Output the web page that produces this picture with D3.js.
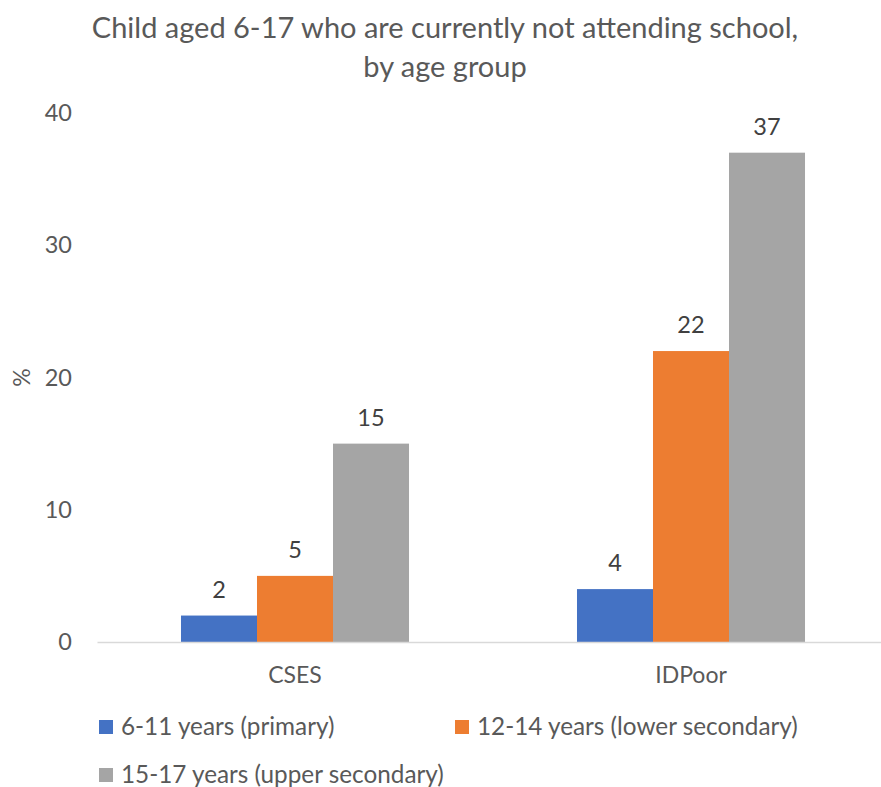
<!DOCTYPE html>
<html><head><meta charset="utf-8">
<script src="https://cdn.jsdelivr.net/npm/d3@7"></script>
<style>body{margin:0;background:#fff}svg{display:block}text{font-family:Lato,"Open Sans",sans-serif}</style>
</head><body>
<svg id="c" width="881" height="787"></svg>
<script>
const categories = ["CSES", "IDPoor"];
const seriesNames = ["6-11 years (primary)", "12-14 years (lower secondary)", "15-17 years (upper secondary)"];
const seriesValues = [[2, 4], [5, 22], [15, 37]];
const seriesColors = ["#4472C4", "#ED7D31", "#A5A5A5"];
const yTicks = [0, 10, 20, 30, 40];
const titleLines = ["Child aged 6-17 who are currently not attending school,", "by age group"];
const yLabel = "%";

const FONT = "Lato,'Open Sans',sans-serif";
const svg = d3.select("#c");
const L = 97, R = 889, T = 113, B = 642;
const y = d3.scaleLinear().domain([0, 40]).range([B, T]);
const x0 = d3.scaleBand().domain(categories).range([L, R]).paddingInner(0.4242).paddingOuter(0.2121);
const x1 = d3.scaleBand().domain(d3.range(seriesNames.length)).range([0, x0.bandwidth()]);

// title
svg.append("g").selectAll("text").data(titleLines).join("text")
  .attr("x", 445).attr("y", (d, i) => 38 + i * 39)
  .attr("text-anchor", "middle").attr("font-size", 29).attr("fill", "#595959").text(d => d);

// y axis
const yAxis = svg.append("g").attr("transform", `translate(${L},0)`)
  .call(d3.axisLeft(y).tickValues(yTicks).tickSize(0).tickPadding(25));
yAxis.select(".domain").remove();
yAxis.selectAll("text").attr("font-size", 23.5).attr("fill", "#595959").style("font-family", FONT);

svg.append("text").attr("transform", `translate(30,${y(20)}) rotate(-90)`)
  .attr("text-anchor", "middle").attr("font-size", 23).attr("fill", "#595959").text(yLabel);

// bars
const groups = svg.append("g").selectAll("g").data(seriesNames).join("g").attr("fill", (d, i) => seriesColors[i]);
groups.each(function (s, si) {
  const g = d3.select(this);
  g.selectAll("rect").data(categories).join("rect")
    .attr("x", c => x0(c) + x1(si)).attr("width", x1.bandwidth())
    .attr("y", (c, ci) => y(seriesValues[si][ci])).attr("height", (c, ci) => B - y(seriesValues[si][ci]));
  g.selectAll("text").data(categories).join("text")
    .attr("x", c => x0(c) + x1(si) + x1.bandwidth() / 2)
    .attr("y", (c, ci) => y(seriesValues[si][ci]) - 18)
    .attr("text-anchor", "middle").attr("font-size", 23.5).attr("fill", "#404040")
    .text((c, ci) => seriesValues[si][ci]);
});

// x axis
const xAxis = svg.append("g").attr("transform", `translate(0,${B})`)
  .call(d3.axisBottom(x0).tickSize(0).tickPadding(25).tickSizeOuter(0));
xAxis.select(".domain").attr("stroke", "#d9d9d9").attr("stroke-width", 1.3);
xAxis.selectAll("text").attr("font-size", 23).attr("fill", "#595959").style("font-family", FONT);

// legend
const legendPos = [[99, 727], [455, 727], [99, 775]];
const lg = svg.append("g").selectAll("g").data(seriesNames).join("g")
  .attr("transform", (d, i) => `translate(${legendPos[i][0]},${legendPos[i][1]})`);
lg.append("rect").attr("x", 0).attr("y", -7).attr("width", 14).attr("height", 14).attr("fill", (d, i) => seriesColors[i]);
lg.append("text").attr("x", 22).attr("y", 8).attr("font-size", 24.3).attr("fill", "#595959").text(d => d);
</script>
</body></html>
